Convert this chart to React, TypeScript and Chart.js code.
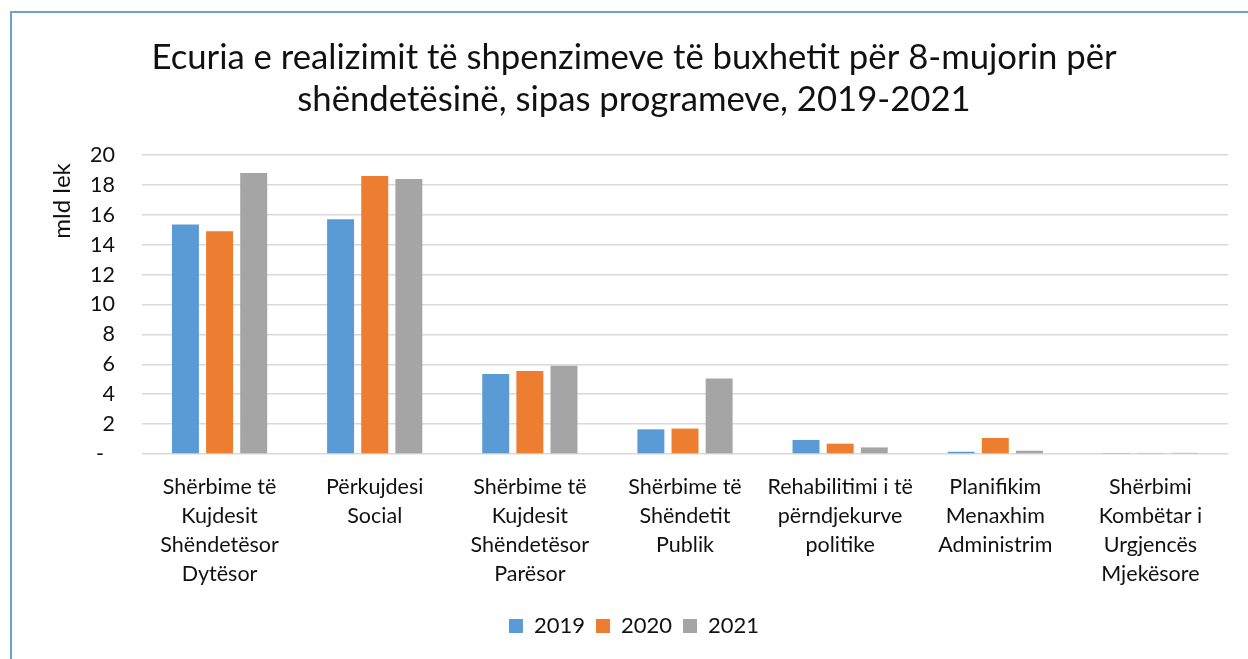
import React, { useEffect, useRef } from "react";
import { Chart, registerables } from "chart.js";

Chart.register(...registerables);

const categories: string[][] = [
  ["Shërbime të", "Kujdesit", "Shëndetësor", "Dytësor"],
  ["Përkujdesi", "Social"],
  ["Shërbime të", "Kujdesit", "Shëndetësor", "Parësor"],
  ["Shërbime të", "Shëndetit", "Publik"],
  ["Rehabilitimi i të", "përndjekurve", "politike"],
  ["Planifikim", "Menaxhim", "Administrim"],
  ["Shërbimi", "Kombëtar i", "Urgjencës", "Mjekësore"],
];

const values2019: number[] = [15.35, 15.7, 5.35, 1.65, 0.94, 0.15, 0.07];
const values2020: number[] = [14.9, 18.6, 5.55, 1.7, 0.69, 1.07, 0.07];
const values2021: number[] = [18.8, 18.4, 5.9, 5.05, 0.44, 0.22, 0.08];

const seriesLabels = ["2019", "2020", "2021"];
const seriesColors = ["#5B9BD5", "#ED7D31", "#A5A5A5"];

const titleLines = [
  "Ecuria e realizimit të shpenzimeve të buxhetit për 8-mujorin për",
  "shëndetësinë, sipas programeve, 2019-2021",
];
const yAxisTitle = "mld lek";

const FONT = "Lato, 'Open Sans', sans-serif";
const TEXT = "#111111";

export default function App() {
  const canvasRef = useRef<HTMLCanvasElement | null>(null);

  useEffect(() => {
    if (!canvasRef.current) return;
    const yTitlePlugin = {
      id: "yTitlePlugin",
      afterDraw(chart: any) {
        const { ctx, chartArea } = chart;
        ctx.save();
        ctx.translate(chartArea.left - 80, chartArea.top + 46);
        ctx.rotate(-Math.PI / 2);
        ctx.font = `24px ${FONT}`;
        ctx.fillStyle = TEXT;
        ctx.textAlign = "center";
        ctx.textBaseline = "middle";
        ctx.fillText(yAxisTitle, 0, 0);
        ctx.restore();
      },
    };
    const data = [values2019, values2020, values2021];
    const chart = new Chart(canvasRef.current, {
      type: "bar",
      data: {
        labels: categories,
        datasets: seriesLabels.map((l, i) => ({
          label: l,
          data: data[i],
          backgroundColor: seriesColors[i],
          borderWidth: 0,
          categoryPercentage: 0.66,
          barPercentage: 0.79,
        })),
      },
      options: {
        responsive: false,
        animation: false,
        devicePixelRatio: 1,
        layout: { padding: { left: 28, right: 32, top: 24, bottom: 12 } },
        plugins: {
          tooltip: { enabled: false },
          title: {
            display: true,
            text: titleLines,
            color: TEXT,
            font: { family: FONT, size: 34.7, weight: "normal", lineHeight: "42px" },
            padding: { top: 0, bottom: 34 },
          },
          legend: {
            position: "bottom",
            labels: {
              boxWidth: 14,
              boxHeight: 14,
              padding: 11,
              color: TEXT,
              font: { family: FONT, size: 22 },
            },
          },
        },
        scales: {
          x: {
            grid: { display: false },
            border: { display: false },
            ticks: {
              color: TEXT,
              font: { family: FONT, size: 21.5, lineHeight: "29px" },
              padding: 11,
              maxRotation: 0,
              autoSkip: false,
            },
            afterFit(scale: any) {
              scale.height = 150;
            },
          },
          y: {
            min: 0,
            max: 20,
            border: { display: false },
            grid: { color: "#d9d9d9", lineWidth: 1.5, drawTicks: false },
            ticks: {
              stepSize: 2,
              color: TEXT,
              font: { family: FONT, size: 21.5 },
              padding: 27,
              callback: (v: any) => (Number(v) === 0 ? "-  " : String(v)),
            },
            afterFit(scale: any) {
              scale.width = 102;
            },
          },
        },
      },
      plugins: [yTitlePlugin],
    });
    return () => chart.destroy();
  }, []);

  return (
    <div
      style={{
        position: "fixed",
        left: 0,
        top: 0,
        width: 1248,
        height: 659,
        overflow: "hidden",
        background: "#fff",
      }}
    >
      <div
        style={{
          position: "absolute",
          left: 10,
          top: 11,
          width: 1250,
          height: 660,
          border: "2px solid #6A9FD8",
          background: "#fff",
        }}
      >
        <canvas ref={canvasRef} width={1248} height={646} style={{ display: "block" }} />
      </div>
    </div>
  );
}
